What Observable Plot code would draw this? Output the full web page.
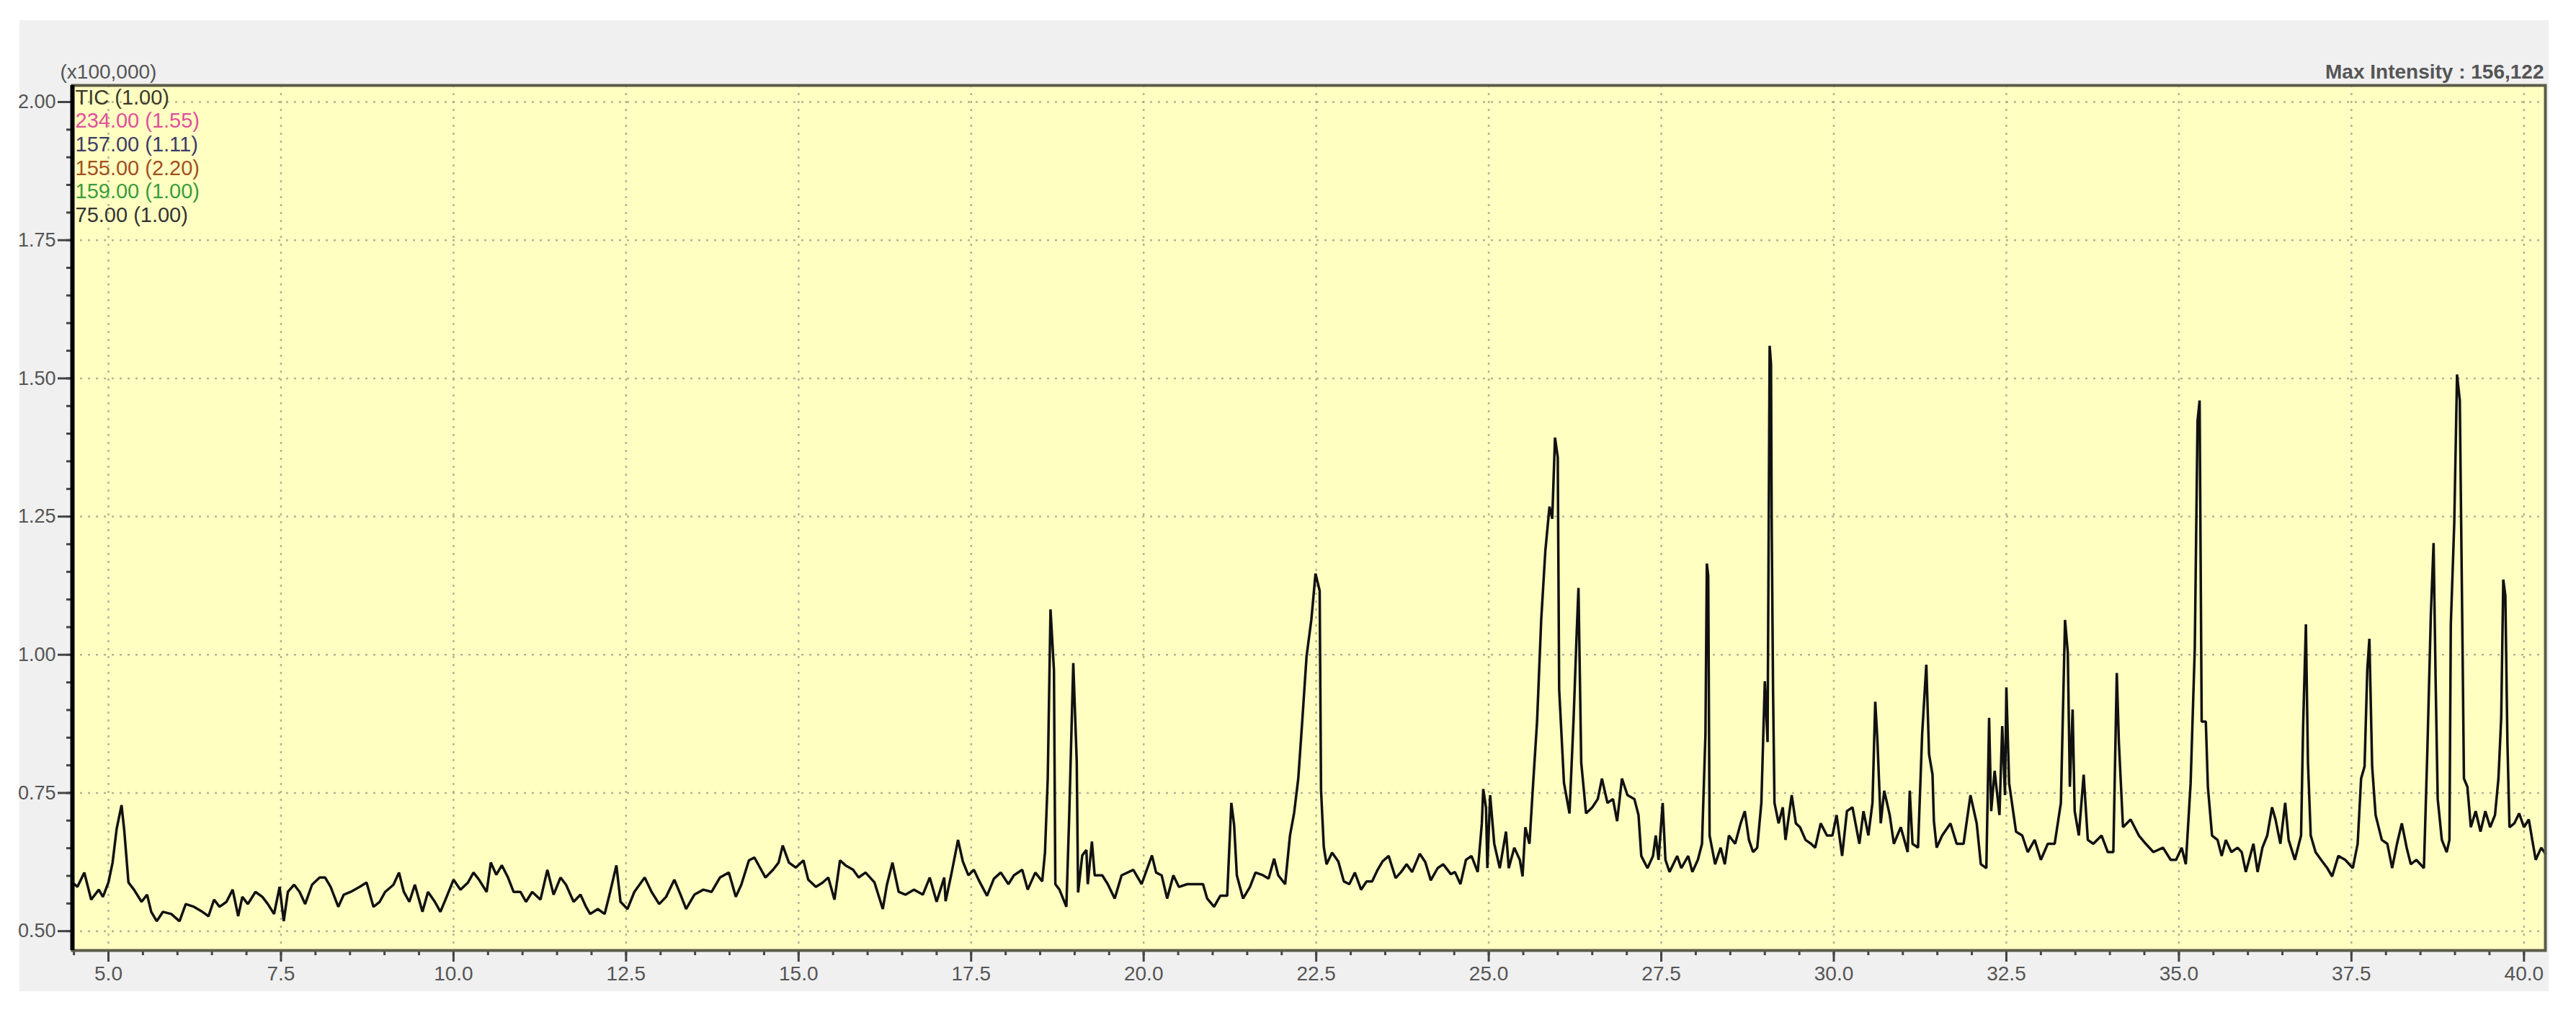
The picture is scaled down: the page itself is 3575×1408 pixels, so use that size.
<!DOCTYPE html>
<html><head><meta charset="utf-8">
<script src="https://cdn.jsdelivr.net/npm/d3@7"></script>
<script src="https://cdn.jsdelivr.net/npm/@observablehq/plot@0.6"></script>
<style>
html,body{margin:0;padding:0;background:#fff;width:3575px;height:1408px;overflow:hidden;}
#panel{position:absolute;left:27px;top:28px;width:3510px;height:1347px;background:#f0f0f0;}
#chart{position:absolute;left:0;top:0;}
</style></head><body>
<div id="panel"></div>
<div id="chart"></div>
<script>
// Retention time (min) and TIC intensity (x100,000), in six stretches
const scanA = [[4.48,0.588],[4.55,0.580],[4.65,0.606],[4.75,0.557],[4.86,0.575],[4.92,0.562],[5.00,0.588],[5.06,0.624],[5.12,0.686],[5.19,0.728],[5.23,0.681],[5.29,0.588],[5.37,0.575],[5.48,0.553],[5.56,0.566],[5.62,0.535],[5.70,0.518],[5.79,0.535],[5.91,0.531],[6.03,0.518],[6.12,0.549],[6.24,0.544],[6.36,0.535],[6.45,0.527],[6.53,0.557],[6.61,0.544],[6.71,0.553],[6.80,0.575],[6.88,0.527],[6.94,0.562],[7.02,0.549],[7.13,0.571],[7.23,0.562],[7.31,0.549],[7.40,0.531],[7.48,0.580],[7.54,0.518],[7.60,0.571],[7.69,0.584],[7.77,0.571],[7.85,0.549],[7.95,0.584],[8.06,0.597],[8.14,0.597],[8.22,0.580],[8.33,0.544],[8.41,0.566],[8.51,0.571],[8.64,0.580],[8.74,0.588],[8.84,0.544],[8.93,0.553],[9.01,0.571],[9.13,0.584],[9.21,0.606],[9.28,0.571],[9.36,0.553],[9.44,0.584],[9.55,0.535],[9.63,0.571],[9.73,0.553],[9.81,0.535],[9.90,0.562],[10.00,0.593],[10.10,0.575],[10.21,0.588],[10.29,0.606],[10.37,0.593],[10.48,0.571],[10.54,0.624],[10.62,0.602],[10.70,0.619],[10.79,0.597],[10.87,0.571]];
const scanB = [[10.97,0.571],[11.05,0.553],[11.14,0.571],[11.26,0.557],[11.36,0.611],[11.45,0.566],[11.55,0.597],[11.63,0.584],[11.74,0.553],[11.84,0.566],[11.92,0.544],[11.98,0.531],[12.09,0.540],[12.19,0.531],[12.27,0.571],[12.36,0.619],[12.42,0.553],[12.52,0.540],[12.62,0.571],[12.77,0.597],[12.87,0.571],[12.98,0.549],[13.08,0.562],[13.20,0.593],[13.29,0.566],[13.37,0.540],[13.49,0.566],[13.62,0.575],[13.74,0.571],[13.86,0.597],[13.99,0.606],[14.09,0.562],[14.17,0.584],[14.28,0.628],[14.36,0.633],[14.44,0.615],[14.52,0.597],[14.63,0.611],[14.71,0.624],[14.77,0.655],[14.86,0.624],[14.96,0.615],[15.07,0.628],[15.14,0.593],[15.25,0.580],[15.35,0.588],[15.43,0.597],[15.52,0.557],[15.60,0.628],[15.68,0.619],[15.79,0.611],[15.87,0.597],[15.97,0.606],[16.10,0.588],[16.22,0.540],[16.28,0.584],[16.36,0.624],[16.45,0.571],[16.55,0.566],[16.67,0.575],[16.80,0.566],[16.90,0.597],[17.00,0.553],[17.11,0.597]];
const scanC = [[17.13,0.554],[17.21,0.601],[17.31,0.665],[17.38,0.626],[17.46,0.601],[17.54,0.611],[17.62,0.590],[17.73,0.564],[17.83,0.595],[17.93,0.606],[18.04,0.585],[18.12,0.601],[18.24,0.611],[18.32,0.575],[18.43,0.606],[18.53,0.590],[18.57,0.642],[18.61,0.776],[18.65,1.082],[18.70,0.972],[18.72,0.585],[18.78,0.575],[18.88,0.544],[18.92,0.704],[18.98,0.985],[19.03,0.807],[19.05,0.570],[19.11,0.637],[19.17,0.647],[19.19,0.585],[19.25,0.662],[19.29,0.601],[19.40,0.601],[19.48,0.585],[19.58,0.559],[19.68,0.601],[19.85,0.611],[19.97,0.585],[20.12,0.637],[20.18,0.606],[20.26,0.601],[20.34,0.559],[20.43,0.601],[20.51,0.580],[20.63,0.585],[20.76,0.585],[20.86,0.585],[20.92,0.559],[21.02,0.544],[21.11,0.564],[21.21,0.564],[21.27,0.732],[21.31,0.693],[21.35,0.601],[21.44,0.559],[21.54,0.580],[21.62,0.606],[21.73,0.601],[21.81,0.595],[21.89,0.631],[21.95,0.601],[22.05,0.585],[22.12,0.673],[22.18,0.714],[22.24,0.776],[22.30,0.884],[22.36,0.997],[22.43,1.064],[22.49,1.147],[22.55,1.116],[22.57,0.755],[22.61,0.652],[22.65,0.621],[22.73,0.642],[22.82,0.626],[22.90,0.590],[22.98,0.585],[23.06,0.606],[23.15,0.575],[23.23,0.590],[23.31,0.590],[23.39,0.611],[23.46,0.626]];
const scanD = [[23.55,0.636],[23.65,0.596],[23.73,0.607],[23.81,0.621],[23.89,0.607],[24.00,0.640],[24.08,0.625],[24.16,0.592],[24.26,0.614],[24.34,0.621],[24.45,0.603],[24.51,0.607],[24.59,0.585],[24.67,0.629],[24.75,0.636],[24.84,0.607],[24.90,0.695],[24.92,0.757],[24.96,0.724],[24.98,0.614],[25.02,0.746],[25.08,0.658],[25.16,0.614],[25.25,0.680],[25.29,0.614],[25.37,0.651],[25.45,0.629],[25.49,0.599],[25.53,0.688],[25.59,0.658],[25.64,0.761],[25.70,0.879],[25.76,1.063],[25.82,1.188],[25.88,1.268],[25.92,1.246],[25.96,1.393],[26.00,1.357],[26.02,0.938],[26.09,0.768],[26.17,0.713],[26.23,0.886],[26.27,1.026],[26.30,1.121],[26.34,0.805],[26.41,0.713],[26.50,0.724],[26.58,0.739],[26.64,0.776],[26.72,0.732],[26.80,0.739],[26.86,0.699],[26.93,0.776],[27.01,0.746],[27.11,0.739],[27.17,0.710],[27.21,0.636],[27.30,0.614],[27.38,0.636],[27.42,0.673],[27.46,0.629],[27.52,0.732],[27.56,0.629],[27.62,0.607],[27.73,0.636],[27.79,0.614],[27.89,0.636],[27.95,0.607],[28.03,0.629],[28.09,0.658],[28.14,0.857],[28.16,1.165],[28.18,1.143],[28.20,0.673],[28.28,0.621],[28.36,0.651],[28.42,0.621],[28.48,0.673],[28.57,0.658],[28.65,0.695],[28.71,0.717],[28.77,0.665],[28.83,0.643],[28.89,0.651],[28.95,0.732],[29.00,0.952],[29.04,0.842],[29.07,1.559],[29.09,1.526],[29.10,1.232],[29.12,0.930],[29.14,0.732],[29.20,0.695],[29.26,0.724],[29.30,0.665],[29.39,0.746],[29.45,0.695],[29.51,0.688],[29.59,0.665],[29.67,0.658]];
const scanE = [[29.73,0.651],[29.81,0.695],[29.90,0.673],[29.98,0.673],[30.04,0.710],[30.12,0.636],[30.19,0.717],[30.27,0.724],[30.37,0.658],[30.43,0.717],[30.50,0.673],[30.56,0.732],[30.60,0.915],[30.63,0.849],[30.68,0.695],[30.73,0.754],[30.81,0.710],[30.87,0.658],[30.97,0.688],[31.07,0.643],[31.10,0.754],[31.14,0.658],[31.22,0.651],[31.28,0.857],[31.34,0.982],[31.38,0.820],[31.43,0.783],[31.45,0.699],[31.49,0.651],[31.57,0.673],[31.69,0.695],[31.78,0.658],[31.88,0.658],[31.98,0.746],[32.07,0.695],[32.13,0.621],[32.21,0.614],[32.25,0.886],[32.28,0.717],[32.33,0.790],[32.40,0.710],[32.44,0.871],[32.48,0.746],[32.50,0.941],[32.54,0.768],[32.64,0.680],[32.73,0.673],[32.81,0.643],[32.91,0.665],[33.00,0.629],[33.10,0.658],[33.20,0.658],[33.29,0.732],[33.35,1.063],[33.39,1.004],[33.42,0.761],[33.46,0.901],[33.49,0.717],[33.55,0.673],[33.62,0.783],[33.68,0.665],[33.76,0.658],[33.88,0.673],[33.97,0.643],[34.05,0.643],[34.10,0.967],[34.13,0.842],[34.19,0.688],[34.30,0.702],[34.42,0.673],[34.52,0.658],[34.63,0.643],[34.77,0.651],[34.88,0.629],[34.96,0.629],[35.04,0.651],[35.10,0.621],[35.17,0.768],[35.23,1.011],[35.27,1.423],[35.30,1.460],[35.33,0.879],[35.39,0.879],[35.42,0.761],[35.48,0.673],[35.56,0.665],[35.62,0.636],[35.68,0.665],[35.76,0.643],[35.85,0.651],[35.91,0.643],[35.97,0.607]];
const scanF = [[36.08,0.658],[36.14,0.607],[36.21,0.651],[36.28,0.673],[36.35,0.724],[36.40,0.702],[36.47,0.658],[36.54,0.732],[36.59,0.665],[36.68,0.629],[36.77,0.673],[36.80,0.871],[36.84,1.055],[36.87,0.805],[36.91,0.673],[36.98,0.643],[37.06,0.629],[37.15,0.614],[37.22,0.599],[37.31,0.636],[37.41,0.629],[37.52,0.614],[37.59,0.658],[37.64,0.776],[37.69,0.798],[37.73,0.974],[37.76,1.029],[37.80,0.798],[37.85,0.710],[37.94,0.665],[38.02,0.658],[38.09,0.614],[38.16,0.658],[38.23,0.695],[38.30,0.651],[38.36,0.621],[38.44,0.629],[38.55,0.614],[38.60,0.827],[38.65,1.070],[38.69,1.202],[38.72,0.952],[38.75,0.739],[38.81,0.665],[38.88,0.643],[38.92,0.665],[38.94,1.055],[38.99,1.239],[39.03,1.507],[39.07,1.460],[39.11,1.011],[39.13,0.776],[39.18,0.761],[39.23,0.688],[39.30,0.717],[39.37,0.680],[39.44,0.717],[39.51,0.688],[39.58,0.710],[39.63,0.776],[39.67,0.886],[39.70,1.136],[39.73,1.107],[39.76,0.842],[39.79,0.688],[39.86,0.695],[39.93,0.713],[40.00,0.688],[40.07,0.702],[40.12,0.665],[40.17,0.629],[40.25,0.651],[40.31,0.640]];

const xMajor = [5.0, 7.5, 10.0, 12.5, 15.0, 17.5, 20.0, 22.5, 25.0, 27.5, 30.0, 32.5, 35.0, 37.5, 40.0];
const yMajor = [0.50, 0.75, 1.00, 1.25, 1.50, 1.75, 2.00];
const xDomain = [4.478, 40.31];
const yDomain = [0.465, 2.03];
const legendLabels = ["TIC (1.00)", "234.00 (1.55)", "157.00 (1.11)", "155.00 (2.20)", "159.00 (1.00)", "75.00 (1.00)"];
const legendColors = ["#3a3a2a", "#e0509c", "#3c3c66", "#a0501e", "#3c9c3c", "#333333"];
const unitLabel = "(x100,000)";
const maxLabel = "Max Intensity : 156,122";

const xMinor = d3.range(4.5, 40.31, 0.5);
const yMinor = d3.range(0.5, 2.001, 0.05);

const trace = [...scanA, ...scanB, ...scanC, ...scanD, ...scanE, ...scanF].map(([t, v]) => ({t, v}));

const font = "'Liberation Sans', Arial, sans-serif";
const gridStyle = {stroke: "#a0a088", strokeOpacity: 0.8, strokeWidth: 2.5, strokeDasharray: "3,8"};

const plot = Plot.plot({
  width: 3575, height: 1408,
  marginLeft: 100, marginRight: 43, marginTop: 118, marginBottom: 90,
  x: {domain: xDomain, label: null},
  y: {domain: yDomain, label: null},
  style: {background: "transparent", fontFamily: font, fontSize: "27px", color: "#555"},
  marks: [
    Plot.frame({fill: "#ffffc2", stroke: null}),
    Plot.gridX(xMajor, gridStyle),
    Plot.gridY(yMajor, gridStyle),
    Plot.axisX(xMinor, {tickSize: 7, text: null, label: null, stroke: "#444", strokeWidth: 3}),
    Plot.axisX(xMajor, {tickSize: 16, tickPadding: 6, label: null, tickFormat: d => d.toFixed(1), stroke: "#444", strokeWidth: 3, fill: "#555", fontSize: 28}),
    Plot.axisY(yMinor, {tickSize: 8, text: null, label: null, stroke: "#444", strokeWidth: 3}),
    Plot.axisY(yMajor, {tickSize: 20, tickPadding: 3, label: null, tickFormat: d => d.toFixed(2), stroke: "#444", strokeWidth: 3, fill: "#555", fontSize: 27}),
    Plot.line(trace, {x: "t", y: "v", stroke: "#111", strokeWidth: 3.5, strokeLinejoin: "miter"}),
    Plot.frame({stroke: "#5c5c48", strokeWidth: 4}),
    Plot.ruleX([xDomain[0]], {stroke: "#000", strokeWidth: 6}),
    Plot.text([unitLabel], {frameAnchor: "top-left", dx: -17, dy: -18, textAnchor: "start", lineAnchor: "middle", fill: "#555", fontSize: 28}),
    Plot.text([maxLabel], {frameAnchor: "top-right", dx: -2, dy: -18, textAnchor: "end", lineAnchor: "middle", fill: "#555", fontSize: 28, fontWeight: "bold"}),
    ...legendLabels.map((label, i) => Plot.text([label], {frameAnchor: "top-left", dx: 4, dy: 17 + i * 32.6, textAnchor: "start", lineAnchor: "middle", fill: legendColors[i], fontSize: 29}))
  ]
});
document.getElementById("chart").appendChild(plot);
</script>
</body></html>
